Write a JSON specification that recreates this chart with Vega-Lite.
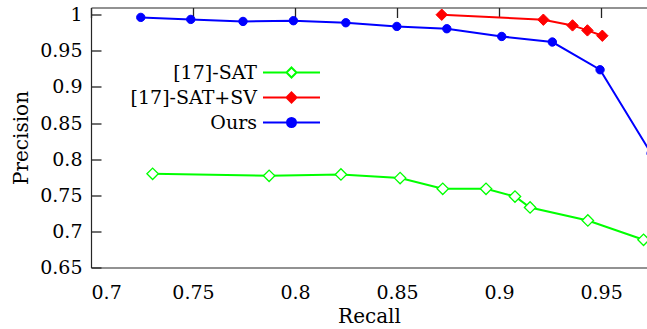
{
  "$schema": "https://vega.github.io/schema/vega-lite/v6.json",
  "width": 556,
  "height": 260,
  "autosize": {"type": "none"},
  "padding": {"left": 91, "top": 7.5, "right": 0, "bottom": 61.5},
  "config": {
    "view": {"stroke": null},
    "font": "DejaVu Serif"
  },
  "data": {
    "values": [
      {"series": "[17]-SAT", "recall": 0.7302, "precision": 0.7798},
      {"series": "[17]-SAT", "recall": 0.7873, "precision": 0.7770},
      {"series": "[17]-SAT", "recall": 0.8225, "precision": 0.7788},
      {"series": "[17]-SAT", "recall": 0.8515, "precision": 0.7738},
      {"series": "[17]-SAT", "recall": 0.8724, "precision": 0.7590},
      {"series": "[17]-SAT", "recall": 0.8936, "precision": 0.7590},
      {"series": "[17]-SAT", "recall": 0.9078, "precision": 0.7483},
      {"series": "[17]-SAT", "recall": 0.9152, "precision": 0.7331},
      {"series": "[17]-SAT", "recall": 0.9435, "precision": 0.7151},
      {"series": "[17]-SAT", "recall": 0.9708, "precision": 0.6884},
      {"series": "[17]-SAT+SV", "recall": 0.8719, "precision": 1.0},
      {"series": "[17]-SAT+SV", "recall": 0.9217, "precision": 0.9931},
      {"series": "[17]-SAT+SV", "recall": 0.9360, "precision": 0.9852},
      {"series": "[17]-SAT+SV", "recall": 0.9433, "precision": 0.9783},
      {"series": "[17]-SAT+SV", "recall": 0.9506, "precision": 0.9709},
      {"series": "Ours", "recall": 0.7244, "precision": 0.9963},
      {"series": "Ours", "recall": 0.7489, "precision": 0.9935},
      {"series": "Ours", "recall": 0.7745, "precision": 0.9907},
      {"series": "Ours", "recall": 0.7992, "precision": 0.9917},
      {"series": "Ours", "recall": 0.8249, "precision": 0.9889},
      {"series": "Ours", "recall": 0.8499, "precision": 0.9838},
      {"series": "Ours", "recall": 0.8744, "precision": 0.9806},
      {"series": "Ours", "recall": 0.9013, "precision": 0.9699},
      {"series": "Ours", "recall": 0.9261, "precision": 0.9622},
      {"series": "Ours", "recall": 0.9495, "precision": 0.9238},
      {"series": "Ours", "recall": 0.9745, "precision": 0.808}
    ]
  },
  "resolve": {"axis": {"x": "independent", "y": "independent"}},
  "layer": [
    {
      "mark": {"type": "line", "strokeWidth": 2, "clip": true},
      "encoding": {
        "x": {
          "field": "recall", "type": "quantitative",
          "scale": {"domain": [0.7, 0.9725], "nice": false, "zero": false},
          "axis": {
            "orient": "bottom",
            "values": [0.7, 0.75, 0.8, 0.85, 0.9, 0.95],
            "format": "~g",
            "title": "Recall",
            "grid": true,
            "gridDash": [10, 2000],
            "gridColor": "#222",
            "gridWidth": 1.3,
            "gridOpacity": 1,
            "ticks": false,
            "labelFont": "DejaVu Serif",
            "titleFont": "DejaVu Serif",
            "labelFontSize": 19,
            "titleFontSize": 20,
            "titleFontWeight": "normal",
            "labelColor": "#000",
            "titleColor": "#000",
            "labelOverlap": false,
            "domainColor": "#262626",
            "domainWidth": 1.2,
            "labelPadding": 16,
            "titlePadding": 4
          }
        },
        "y": {
          "field": "precision", "type": "quantitative",
          "scale": {"domain": [0.65, 1.01], "nice": false, "zero": false},
          "axis": {
            "orient": "left",
            "values": [0.65, 0.7, 0.75, 0.8, 0.85, 0.9, 0.95, 1.0],
            "format": "~g",
            "title": "Precision",
            "grid": true,
            "gridDash": [10, 2000],
            "gridColor": "#222",
            "gridWidth": 1.3,
            "gridOpacity": 1,
            "ticks": false,
            "labelFont": "DejaVu Serif",
            "titleFont": "DejaVu Serif",
            "labelFontSize": 19,
            "titleFontSize": 20,
            "titleFontWeight": "normal",
            "labelColor": "#000",
            "titleColor": "#000",
            "labelOverlap": false,
            "domainColor": "#262626",
            "domainWidth": 1.2,
            "labelPadding": 9,
            "titlePadding": 8
          }
        },
        "color": {
          "field": "series", "type": "nominal",
          "scale": {"domain": ["[17]-SAT", "[17]-SAT+SV", "Ours"], "range": ["#00ff00", "#ff0000", "#0000ff"]},
          "legend": {
            "title": null,
            "orient": "none",
            "legendX": 189.5,
            "legendY": 54,
            "padding": 0,
            "labelFont": "DejaVu Serif",
            "labelFontSize": 19,
            "labelColor": "#000",
            "symbolType": {"expr": "datum.value === 'Ours' ? 'M-2.85,0L-0.45,0M0.45,0L2.85,0M0.45,0A0.45,0.45 0 1 1 -0.45,0A0.45,0.45 0 1 1 0.45,0Z' : 'M-2.85,0L-0.5,0M0.5,0L2.85,0M0,-0.5L0.5,0L0,0.5L-0.5,0Z'"},
            "symbolFillColor": {"expr": "datum.value === '[17]-SAT' ? '#ffffff' : datum.value === 'Ours' ? '#0000ff' : '#ff0000'"},
            "symbolSize": 400,
            "symbolStrokeWidth": 2,
            "symbolOpacity": 1,
            "labelAlign": "right",
            "labelOffset": -45.5,
            "rowPadding": 4
          }
        }
      }
    },
    {
      "transform": [{"filter": "datum.series === '[17]-SAT'"}],
      "mark": {"type": "point", "shape": "diamond", "size": 130, "filled": true, "fill": "#ffffff", "stroke": "#00ff00", "strokeWidth": 1.3, "opacity": 1, "clip": true},
      "encoding": {
        "x": {
          "field": "recall", "type": "quantitative",
          "axis": {"orient": "top", "labels": false, "ticks": false, "title": null, "grid": false, "domainColor": "#262626", "domainWidth": 1.2}
        },
        "y": {"field": "precision", "type": "quantitative", "axis": null}
      }
    },
    {
      "transform": [{"filter": "datum.series === '[17]-SAT+SV'"}],
      "mark": {"type": "point", "shape": "diamond", "size": 130, "filled": true, "fill": "#ff0000", "stroke": "#ff0000", "strokeWidth": 1, "opacity": 1, "clip": true},
      "encoding": {
        "x": {"field": "recall", "type": "quantitative", "axis": null},
        "y": {"field": "precision", "type": "quantitative", "axis": null}
      }
    },
    {
      "transform": [{"filter": "datum.series === 'Ours'"}],
      "mark": {"type": "point", "shape": "circle", "size": 70, "filled": true, "fill": "#0000ff", "stroke": "#0000ff", "strokeWidth": 1, "opacity": 1, "clip": true},
      "encoding": {
        "x": {"field": "recall", "type": "quantitative", "axis": null},
        "y": {"field": "precision", "type": "quantitative", "axis": null}
      }
    }
  ]
}
